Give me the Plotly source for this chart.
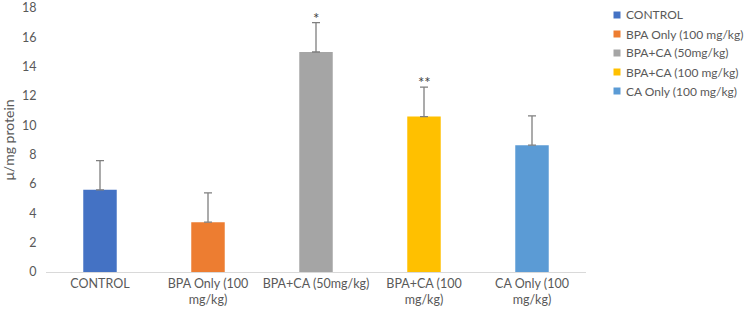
import plotly.graph_objects as go

categories = ["CONTROL", "BPA Only (100 mg/kg)", "BPA+CA (50mg/kg)", "BPA+CA (100 mg/kg)", "CA Only (100 mg/kg)"]
tick_labels = ["CONTROL", "BPA Only (100<br>mg/kg)", "BPA+CA (50mg/kg)", "BPA+CA (100<br>mg/kg)", "CA Only (100<br>mg/kg)"]
y_ticks = [0, 2, 4, 6, 8, 10, 12, 14, 16, 18]
values = [5.6, 3.4, 15.0, 10.6, 8.65]
errors = [2.0, 2.0, 2.0, 2.0, 2.0]
significance = ["", "", "*", "**", ""]
colors = ["#4472C4", "#ED7D31", "#A5A5A5", "#FFC000", "#5B9BD5"]

FONT = "Lato, Open Sans, sans-serif"
W, H = 748, 314
ML, MR, MT, MB = 46, 162, 8, 42
PW, PH = W - ML - MR, H - MT - MB

def px_to_paper(px, py):
    return (px - ML) / PW, (H - MB - py) / PH

fig = go.Figure()
for cat, v, e, c in zip(categories, values, errors, colors):
    fig.add_trace(go.Bar(
        x=[cat], y=[v], name=cat, marker_color=c, marker_line_width=0, width=0.31,
        showlegend=False,
        error_y=dict(type="data", array=[e], arrayminus=[0], symmetric=False,
                     color="#7F7F7F", thickness=1.3, width=4),
    ))

for cat, v, e, s in zip(categories, values, errors, significance):
    if s:
        fig.add_annotation(x=cat, y=v + e, text=s, showarrow=False, yanchor="bottom",
                           yshift=-6, font=dict(family=FONT, size=15, color="#404040"))

# manual legend (small square swatches + labels)
for i, (cat, c) in enumerate(zip(categories, colors)):
    row_y = 15 + 19 * i
    x0, y0 = px_to_paper(613.5, row_y + 3.5)
    x1, y1 = px_to_paper(620.5, row_y - 3.5)
    fig.add_shape(type="rect", xref="paper", yref="paper", x0=x0, y0=y0, x1=x1, y1=y1,
                  fillcolor=c, line_width=0)
    tx, ty = px_to_paper(625, row_y)
    fig.add_annotation(xref="paper", yref="paper", x=tx, y=ty, text=cat, showarrow=False,
                       xanchor="left", yanchor="middle", borderpad=0,
                       font=dict(family=FONT, size=12, color="#595959"))

fig.update_layout(
    width=W, height=H,
    margin=dict(l=ML, r=MR, t=MT, b=MB),
    paper_bgcolor="white", plot_bgcolor="white",
    barmode="overlay",
    font=dict(family=FONT, size=12.5, color="#595959"),
    showlegend=False,
)
fig.update_xaxes(type="category", tickvals=categories, ticktext=tick_labels,
                 showline=True, linecolor="#D9D9D9", linewidth=1, ticks="",
                 showgrid=False, range=[-0.5, 4.5], tickfont=dict(size=12.5),
                 automargin=False)
fig.update_yaxes(range=[0, 18], tickvals=y_ticks,
                 showgrid=False, zeroline=False, automargin=False,
                 ticks="outside", ticklen=6, tickcolor="rgba(0,0,0,0)",
                 title=dict(text="μ/mg protein", font=dict(size=14, color="#595959"), standoff=10),
                 tickfont=dict(size=12.5))

fig.write_html("out.html")
